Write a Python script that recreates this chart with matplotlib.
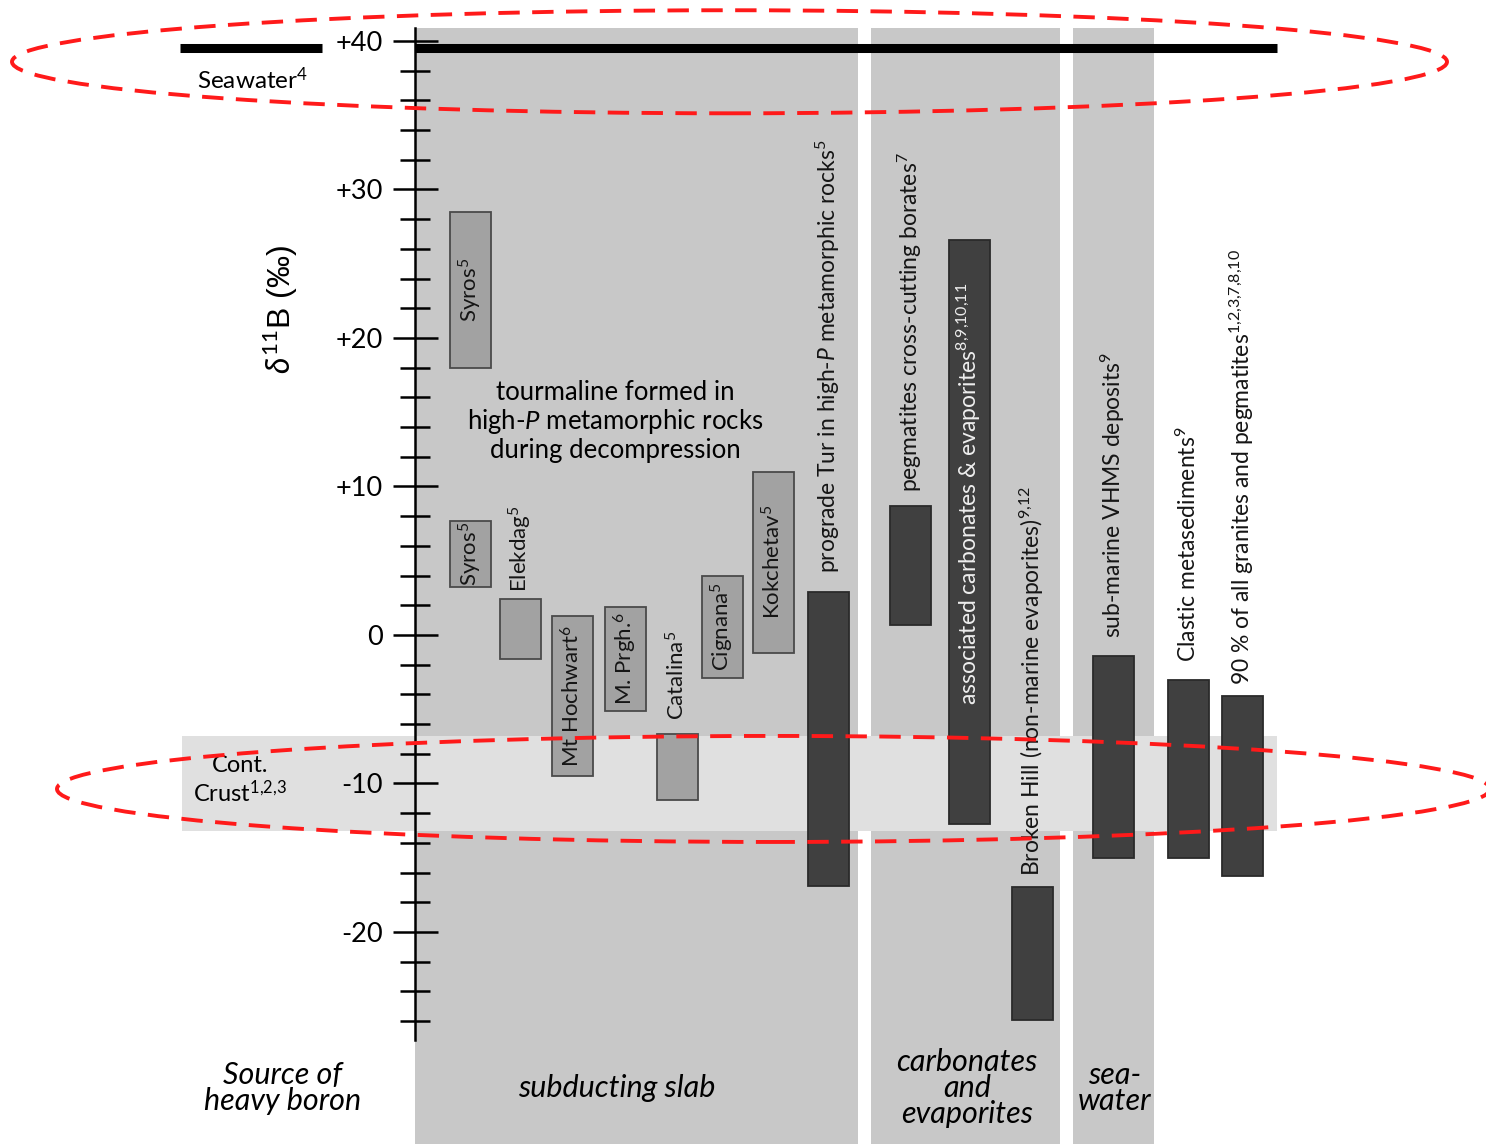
import matplotlib.pyplot as plt
from matplotlib.patches import Rectangle, Ellipse

plt.rcParams['font.family'] = ['Lato', 'DejaVu Sans']
plt.rcParams['mathtext.fontset'] = 'custom'
plt.rcParams['mathtext.rm'] = 'Lato'
plt.rcParams['mathtext.it'] = 'Lato:italic'
plt.rcParams['mathtext.bf'] = 'Lato:bold'

# Rangos de delta 11B (permil) de las turmalinas de alta P (barras claras)
nombres_claros = ['Syros$^{5}$', 'Syros$^{5}$', 'Elekdag$^{5}$', 'Mt Hochwart$^{6}$',
                  'M. Prgh.$^{6}$', 'Catalina$^{5}$', 'Cignana$^{5}$', 'Kokchetav$^{5}$']
max_claros = [28.5, 7.7, 2.4, 1.3, 1.9, -6.7, 4.0, 11.0]
min_claros = [18.0, 3.2, -1.6, -9.5, -5.1, -11.1, -2.9, -1.2]

# Rangos de las otras fuentes (barras oscuras)
nombres_oscuros = ['prograde Tur in high-$P$ metamorphic rocks$^{5}$',
                   'pegmatites cross-cutting borates$^{7}$',
                   'associated carbonates & evaporites$^{8{,}9{,}10{,}11}$',
                   'Broken Hill (non-marine evaporites)$^{9{,}12}$',
                   'sub-marine VHMS deposits$^{9}$',
                   'Clastic metasediments$^{9}$',
                   '90 % of all granites and pegmatites$^{1{,}2{,}3{,}7{,}8{,}10}$']
max_oscuros = [2.9, 8.7, 26.6, -17.0, -1.4, -3.0, -4.1]
min_oscuros = [-16.9, 0.7, -12.7, -25.9, -15.0, -15.0, -16.2]

# Referencias: agua de mar y corteza continental
agua_mar = 39.5
corteza_min = -13.2
corteza_max = -6.8

marcas_y = [-20, -10, 0, 10, 20, 30, 40]
etiquetas_y = ['-20', '-10', '0', '+10', '+20', '+30', '+40']

# Posicion horizontal de cada barra (en pixeles de la figura)
x_claros = [470, 470, 520, 572, 625, 677, 722, 773]
x_oscuros = [828, 910, 969, 1032, 1113, 1188, 1242]
# 'dentro' = texto sobre la barra, numero = separacion encima de la barra
pos_claros = ['dentro', 'dentro', 0.5, 'dentro', 'dentro', 1.0, 'dentro', 'dentro']
pos_oscuros = [1.3, 0.9, 'carb', 0.8, 1.2, 1.2, 0.7]

ancho = 41
y_abajo, y_arriba = -34.28, 42.76
tope_columnas = 40.9
tam_rotulos = 16.5

fig = plt.figure(figsize=(14.86, 11.44), dpi=100)
ax = fig.add_axes([0, 0, 1, 1])
ax.set_xlim(0, 1486)
ax.set_ylim(y_abajo, y_arriba)

# Columnas de fondo: placa subducida, carbonatos y evaporitas, agua de mar
for x0, x1 in [(415, 858), (871, 1060), (1073, 1154)]:
    ax.add_patch(Rectangle((x0, y_abajo), x1 - x0, tope_columnas - y_abajo,
                           facecolor='#c8c8c8', edgecolor='none', zorder=0.5))

# Banda de la corteza continental
ax.add_patch(Rectangle((182, corteza_min), 1277 - 182, corteza_max - corteza_min,
                       facecolor='#e0e0e0', edgecolor='none', zorder=0.6))

# Linea del agua de mar
ax.hlines(agua_mar, 180, 322, color='black', lw=6.5, zorder=4)
ax.hlines(agua_mar, 415, 1277, color='black', lw=6.5, zorder=4)

alto_claros = [a - b for a, b in zip(max_claros, min_claros)]
alto_oscuros = [a - b for a, b in zip(max_oscuros, min_oscuros)]
ax.bar(x_claros, alto_claros, bottom=min_claros, width=ancho, color='#a2a2a2',
       edgecolor='#4a4a4a', linewidth=1.3, zorder=2)
ax.bar(x_oscuros, alto_oscuros, bottom=min_oscuros, width=ancho, color='#404040',
       edgecolor='#2a2a2a', linewidth=1.3, zorder=2)

# Etiquetas verticales de las barras
for x, nombre, hi, lo, pos in zip(x_claros, nombres_claros, max_claros, min_claros, pos_claros):
    if pos == 'dentro':
        ax.text(x, (hi + lo) / 2, nombre, rotation=90, ha='center', va='center',
                fontsize=16, color='#151515', zorder=5)
    else:
        ax.text(x, hi + pos, nombre, rotation=90, ha='center', va='bottom',
                fontsize=16, color='#151515', zorder=5)

for x, nombre, hi, lo, pos in zip(x_oscuros, nombres_oscuros, max_oscuros, min_oscuros, pos_oscuros):
    if pos == 'carb':
        ax.text(x, lo + 8.0, nombre, rotation=90, ha='center', va='bottom',
                fontsize=tam_rotulos, color='#eeeeee', zorder=5)
    else:
        ax.text(x, hi + pos, nombre, rotation=90, ha='center', va='bottom',
                fontsize=tam_rotulos, color='#151515', zorder=5)

# Eje vertical de delta 11B
for lado in ['top', 'right', 'bottom']:
    ax.spines[lado].set_visible(False)
ax.spines['left'].set_position(('data', 415))
ax.spines['left'].set_bounds(-27.3, 40.9)
ax.spines['left'].set_linewidth(1.8)
ax.spines['left'].set_zorder(3)
ax.set_xticks([])
ax.set_yticks(marcas_y, etiquetas_y)
ax.set_yticks(range(-26, 41, 2), minor=True)
ax.tick_params(axis='y', which='major', direction='inout', length=32.4, width=1.8,
               pad=7, labelsize=19.5)
ax.tick_params(axis='y', which='minor', direction='inout', length=20.9, width=1.8)

ax.text(280, 21.9, r'$\delta^{11}$B (‰)', rotation=90, ha='center', va='center',
        fontsize=23, family=['Liberation Sans', 'DejaVu Sans'])

ax.text(252, 37.4, 'Seawater$^{4}$', ha='center', va='center', fontsize=17.5)
ax.text(240, -9.8, 'Cont.\nCrust$^{1{,}2{,}3}$', ha='center', va='center', fontsize=17,
        linespacing=1.15)

ax.text(615, 14.4, 'tourmaline formed in\nhigh-$P$ metamorphic rocks\nduring decompression',
        ha='center', va='center', fontsize=18.5, linespacing=1.1)

# Rotulos de las fuentes de boro pesado
abajo = -30.5
ax.text(283, abajo, 'Source of\nheavy boron', ha='center', va='center', fontsize=22,
        style='italic', linespacing=0.92)
ax.text(617, abajo, 'subducting slab', ha='center', va='center', fontsize=22, style='italic')
ax.text(967, abajo, 'carbonates\nand\nevaporites', ha='center', va='center', fontsize=22,
        style='italic', linespacing=0.92)
ax.text(1115, abajo, 'sea-\nwater', ha='center', va='center', fontsize=22,
        style='italic', linespacing=0.92)

# Elipses rojas discontinuas
for cx, cy, w, h in [(729.5, 38.6, 1435, 6.94), (773.5, -10.37, 1433, 7.14)]:
    ax.add_patch(Ellipse((cx, cy), w, h, fill=False, edgecolor='#ff1a1a', lw=2.8,
                         linestyle=(0, (5.5, 3.2)), zorder=6, clip_on=False))

plt.savefig('out.png', dpi=100)
